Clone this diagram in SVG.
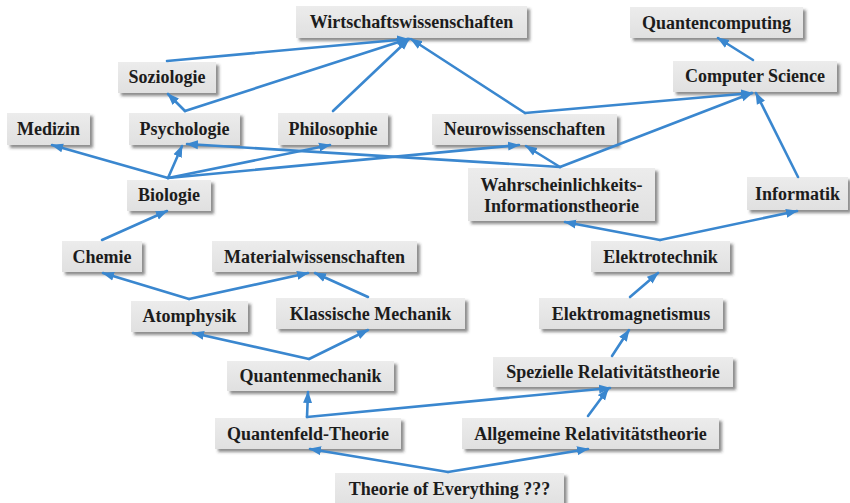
<svg xmlns="http://www.w3.org/2000/svg" width="850" height="503" viewBox="0 0 850 503">
<defs>
<linearGradient id="g" x1="0" y1="0" x2="0" y2="1">
<stop offset="0" stop-color="#ececec"/>
<stop offset="1" stop-color="#e0e0e0"/>
</linearGradient>
<filter id="sh" x="-10%" y="-20%" width="130%" height="160%">
<feDropShadow dx="3" dy="3" stdDeviation="1.6" flood-color="#333" flood-opacity="0.55"/>
</filter>
<marker id="ah" markerUnits="userSpaceOnUse" markerWidth="13" markerHeight="10" refX="11" refY="5" orient="auto">
<path d="M0,0.5 L12,5 L0,9.5 z" fill="#3a87cf"/>
</marker>
</defs>
<style>
.n rect{fill:url(#g);filter:url(#sh)}
.n text{font-family:"Liberation Serif","Times New Roman",serif;font-weight:bold;font-size:18px;fill:#1c1c1c;text-anchor:middle}
.c line{stroke:#3a87cf;stroke-width:2.6;marker-end:url(#ah);stroke-linecap:round}
</style>
<rect width="850" height="503" fill="#ffffff"/>
<g id="nodes">
<g id="wirtschaft" class="n"><rect x="296" y="6" width="231" height="32"/><text x="411.5" y="28">Wirtschaftswissenschaften</text></g>
<g id="quantencomputing" class="n"><rect x="630" y="7" width="173" height="31"/><text x="716.5" y="29">Quantencomputing</text></g>
<g id="soziologie" class="n"><rect x="118" y="62" width="98" height="31"/><text x="167" y="83">Soziologie</text></g>
<g id="cs" class="n"><rect x="673" y="61" width="164" height="31"/><text x="755" y="82">Computer Science</text></g>
<g id="medizin" class="n"><rect x="7" y="113" width="83" height="32"/><text x="48.5" y="135">Medizin</text></g>
<g id="psychologie" class="n"><rect x="129" y="113" width="111" height="32"/><text x="184.5" y="135">Psychologie</text></g>
<g id="philosophie" class="n"><rect x="278" y="113" width="110" height="32"/><text x="333" y="135">Philosophie</text></g>
<g id="neuro" class="n"><rect x="432" y="114" width="185" height="31"/><text x="524.5" y="135">Neurowissenschaften</text></g>
<g id="biologie" class="n"><rect x="127" y="180" width="84" height="31"/><text x="169" y="201">Biologie</text></g>
<g id="wahrsch" class="n"><rect x="468" y="168" width="187" height="53"/><text x="561.5" y="191">Wahrscheinlichkeits-</text><text x="561.5" y="212">Informationstheorie</text></g>
<g id="informatik" class="n"><rect x="747" y="177" width="101" height="33"/><text x="797.5" y="200">Informatik</text></g>
<g id="chemie" class="n"><rect x="62" y="241" width="80" height="31"/><text x="102" y="263">Chemie</text></g>
<g id="material" class="n"><rect x="212" y="241" width="205" height="31"/><text x="314.5" y="263">Materialwissenschaften</text></g>
<g id="elektrotechnik" class="n"><rect x="591" y="241" width="139" height="31"/><text x="660.5" y="263">Elektrotechnik</text></g>
<g id="atomphysik" class="n"><rect x="131" y="301" width="117" height="31"/><text x="189.5" y="322">Atomphysik</text></g>
<g id="klassisch" class="n"><rect x="276" y="298" width="189" height="31"/><text x="370.5" y="320">Klassische Mechanik</text></g>
<g id="elektromagnetismus" class="n"><rect x="539" y="298" width="184" height="31"/><text x="631" y="320">Elektromagnetismus</text></g>
<g id="quantenmechanik" class="n"><rect x="227" y="361" width="167" height="30"/><text x="310.5" y="382">Quantenmechanik</text></g>
<g id="speziell" class="n"><rect x="493" y="357" width="240" height="30"/><text x="613" y="378">Spezielle Relativitätstheorie</text></g>
<g id="qft" class="n"><rect x="215" y="418" width="186" height="31"/><text x="308" y="440">Quantenfeld-Theorie</text></g>
<g id="allgemein" class="n"><rect x="462" y="418" width="257" height="31"/><text x="590.5" y="440">Allgemeine Relativitätstheorie</text></g>
<g id="toe" class="n"><rect x="335" y="473" width="229" height="34"/><text x="449.5" y="495">Theorie of Everything ???</text></g>
</g>
<g id="connectors" class="c">
<line x1="167" y1="61" x2="408" y2="39"/>
<line x1="185" y1="111" x2="408" y2="39"/>
<line x1="333" y1="111" x2="409" y2="39"/>
<line x1="525" y1="113" x2="411" y2="39"/>
<line x1="753" y1="60" x2="718" y2="38"/>
<line x1="525" y1="113" x2="752" y2="93"/>
<line x1="560" y1="167" x2="752" y2="93"/>
<line x1="798" y1="177" x2="756" y2="93"/>
<line x1="185" y1="111" x2="168" y2="94"/>
<line x1="168" y1="178" x2="52" y2="145"/>
<line x1="168" y1="178" x2="182" y2="146"/>
<line x1="168" y1="178" x2="330" y2="145"/>
<line x1="168" y1="178" x2="519" y2="145"/>
<line x1="560" y1="167" x2="187" y2="144"/>
<line x1="560" y1="167" x2="526" y2="146"/>
<line x1="102" y1="240" x2="167" y2="211"/>
<line x1="660" y1="240" x2="565" y2="222"/>
<line x1="660" y1="240" x2="797" y2="211"/>
<line x1="189" y1="299" x2="103" y2="273"/>
<line x1="189" y1="299" x2="308" y2="273"/>
<line x1="368" y1="297" x2="315" y2="273"/>
<line x1="630" y1="297" x2="658" y2="273"/>
<line x1="309" y1="359" x2="193" y2="333"/>
<line x1="309" y1="359" x2="368" y2="330"/>
<line x1="612" y1="356" x2="629" y2="330"/>
<line x1="307" y1="417" x2="308" y2="392"/>
<line x1="307" y1="417" x2="610" y2="388"/>
<line x1="588" y1="416" x2="608" y2="389"/>
<line x1="448" y1="472" x2="310" y2="449"/>
<line x1="448" y1="472" x2="588" y2="449"/>
</g>
</svg>
